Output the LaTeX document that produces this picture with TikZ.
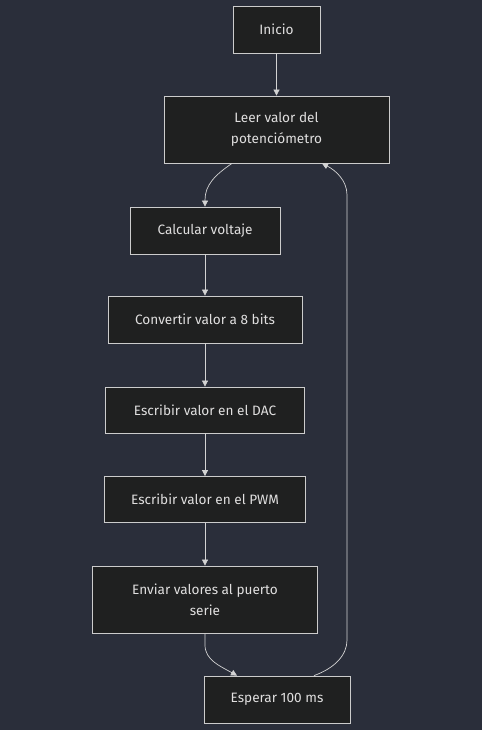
\documentclass[tikz,border=0pt]{standalone}
\usepackage{fontspec}
\setmainfont{Fira Sans}
\usetikzlibrary{arrows.meta}
\definecolor{bg}{HTML}{2A2E3A}
\definecolor{nodefill}{HTML}{1F2020}
\definecolor{nodeline}{HTML}{CCCCCC}
\definecolor{txt}{HTML}{E0DFDF}
\definecolor{edge}{HTML}{D3D3D3}
\tikzset{
  box/.style={draw=nodeline, fill=nodefill, line width=0.8pt, inner sep=0pt, text=txt,
    font=\fontsize{13.6}{21}\selectfont, align=center},
  link/.style={draw=edge, line width=0.7pt, -{Triangle[width=6pt,length=6pt]}}
}
\begin{document}
\begin{tikzpicture}[x=1pt,y=-1pt]
\fill[bg] (0,0) rectangle (482,730);
\useasboundingbox (0,0) rectangle (482,730);
\node[box, minimum width=87pt, minimum height=47pt] (ini) at (276.5,29.5) {Inicio};
\node[box, minimum width=225pt, minimum height=67pt] (leer) at (276.5,129.5) {Leer valor del\\potenciómetro};
\node[box, minimum width=150pt, minimum height=47pt] (calc) at (205,230.5) {Calcular voltaje};
\node[box, minimum width=194pt, minimum height=47pt] (conv) at (205,319.5) {Convertir valor a 8 bits};
\node[box, minimum width=199pt, minimum height=46pt] (dac) at (205,410) {Escribir valor en el DAC};
\node[box, minimum width=201pt, minimum height=46pt] (pwm) at (205,499.5) {Escribir valor en el PWM};
\node[box, minimum width=225pt, minimum height=67pt] (env) at (205,599.5) {Enviar valores al puerto\\serie};
\node[box, minimum width=146pt, minimum height=47pt] (esp) at (277,699.5) {Esperar 100 ms};
\draw[link] (ini.south) -- (leer.north);
\draw[link] ([xshift=-44.5pt]leer.south) .. controls (215,175) and (205,185) .. (205,200) -- (calc.north);
\draw[link] (calc.south) -- (conv.north);
\draw[link] (conv.south) -- (dac.north);
\draw[link] (dac.south) -- (pwm.north);
\draw[link] (pwm.south) -- (env.north);
\draw[link] (env.south) -- (205,645) .. controls (205,660) and (220,666) .. ([xshift=-40pt]esp.north);
\draw[link] ([xshift=37pt]esp.north) .. controls (335,668) and (347,655) .. (347,640) -- (347,195)
  .. controls (347,180) and (335,170) .. ([xshift=45.5pt]leer.south);
\end{tikzpicture}
\end{document}
